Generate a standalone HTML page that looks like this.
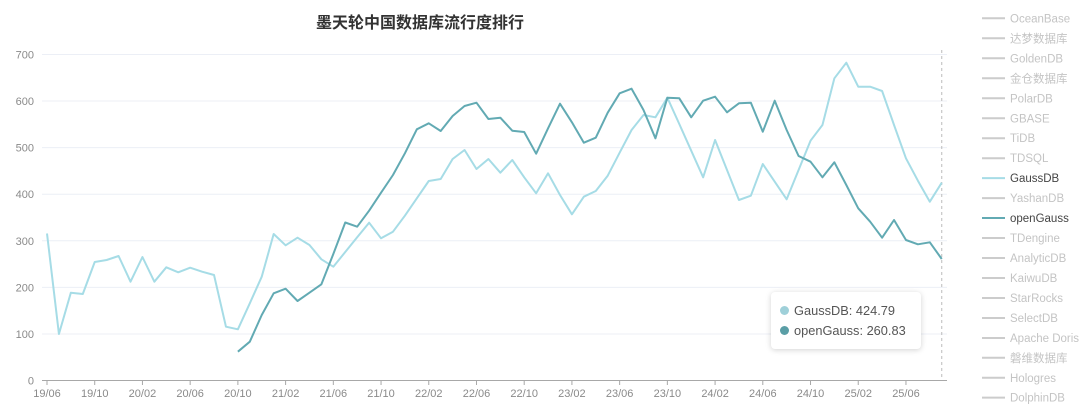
<!DOCTYPE html>
<html><head><meta charset="utf-8"><style>
html,body{margin:0;padding:0;background:#fff;}
body{width:1080px;height:406px;overflow:hidden;position:relative;font-family:"Liberation Sans","Noto Sans CJK SC",sans-serif;}
svg{position:absolute;left:0;top:0;}
.tip{position:absolute;left:771px;top:292px;width:150px;height:57px;background:#fff;border-radius:4px;box-shadow:0 1px 6px rgba(0,0,0,0.18);font-size:12.8px;color:#555;}
.tip div{position:absolute;left:9px;height:16px;line-height:16px;white-space:nowrap;}
.tip span{display:inline-block;width:9px;height:9px;border-radius:50%;margin-right:5px;vertical-align:-0px;}
</style></head><body>
<svg width="1080" height="406" viewBox="0 0 1080 406" xmlns="http://www.w3.org/2000/svg" font-family="Liberation Sans, Noto Sans CJK SC, sans-serif">
<text x="420" y="28" text-anchor="middle" font-size="16" font-weight="bold" fill="#333" font-family="Liberation Sans, Noto Sans CJK SC, sans-serif">墨天轮中国数据库流行度排行</text>
<g stroke="#eceff6" stroke-width="1">
<line x1="42" y1="54.5" x2="947" y2="54.5"/>
<line x1="42" y1="101" x2="947" y2="101"/>
<line x1="42" y1="147.6" x2="947" y2="147.6"/>
<line x1="42" y1="194.2" x2="947" y2="194.2"/>
<line x1="42" y1="240.8" x2="947" y2="240.8"/>
<line x1="42" y1="287.4" x2="947" y2="287.4"/>
<line x1="42" y1="334" x2="947" y2="334"/>
</g>
<g font-size="11" fill="#8a8a8a" text-anchor="end">
<text x="34" y="58.5">700</text>
<text x="34" y="105">600</text>
<text x="34" y="151.6">500</text>
<text x="34" y="198.2">400</text>
<text x="34" y="244.8">300</text>
<text x="34" y="291.4">200</text>
<text x="34" y="338">100</text>
<text x="34" y="384.5">0</text>
</g>
<line x1="42" y1="380.5" x2="947" y2="380.5" stroke="#a8a8a8" stroke-width="1"/>
<g stroke="#a8a8a8" stroke-width="1">
<line x1="47" y1="380.5" x2="47" y2="385"/><line x1="94.72" y1="380.5" x2="94.72" y2="385"/><line x1="142.44" y1="380.5" x2="142.44" y2="385"/><line x1="190.16" y1="380.5" x2="190.16" y2="385"/><line x1="237.88" y1="380.5" x2="237.88" y2="385"/><line x1="285.6" y1="380.5" x2="285.6" y2="385"/><line x1="333.32" y1="380.5" x2="333.32" y2="385"/><line x1="381.04" y1="380.5" x2="381.04" y2="385"/><line x1="428.76" y1="380.5" x2="428.76" y2="385"/><line x1="476.48" y1="380.5" x2="476.48" y2="385"/><line x1="524.2" y1="380.5" x2="524.2" y2="385"/><line x1="571.92" y1="380.5" x2="571.92" y2="385"/><line x1="619.64" y1="380.5" x2="619.64" y2="385"/><line x1="667.36" y1="380.5" x2="667.36" y2="385"/><line x1="715.08" y1="380.5" x2="715.08" y2="385"/><line x1="762.8" y1="380.5" x2="762.8" y2="385"/><line x1="810.52" y1="380.5" x2="810.52" y2="385"/><line x1="858.24" y1="380.5" x2="858.24" y2="385"/><line x1="905.96" y1="380.5" x2="905.96" y2="385"/>
</g>
<g font-size="11" fill="#8a8a8a" text-anchor="middle">
<text x="47" y="397">19/06</text><text x="94.72" y="397">19/10</text><text x="142.44" y="397">20/02</text><text x="190.16" y="397">20/06</text><text x="237.88" y="397">20/10</text><text x="285.6" y="397">21/02</text><text x="333.32" y="397">21/06</text><text x="381.04" y="397">21/10</text><text x="428.76" y="397">22/02</text><text x="476.48" y="397">22/06</text><text x="524.2" y="397">22/10</text><text x="571.92" y="397">23/02</text><text x="619.64" y="397">23/06</text><text x="667.36" y="397">23/10</text><text x="715.08" y="397">24/02</text><text x="762.8" y="397">24/06</text><text x="810.52" y="397">24/10</text><text x="858.24" y="397">25/02</text><text x="905.96" y="397">25/06</text>
</g>
<line x1="941.75" y1="50" x2="941.75" y2="380" stroke="#bbb" stroke-width="1" stroke-dasharray="3,3"/>
<polyline fill="none" stroke="#a6dce6" stroke-width="2" stroke-linejoin="round" points="47,233.5 58.93,334 70.86,292.7 82.79,294 94.72,262 106.65,260 118.58,256 130.51,281.7 142.44,257 154.37,281.7 166.3,267.3 178.23,272.3 190.16,267.7 202.09,271.7 214.02,275 225.95,326.7 237.88,329.3 249.81,303.3 261.74,276.7 273.67,234 285.6,245.3 297.53,237.7 309.46,245 321.39,259.3 333.32,266.7 345.25,252 357.18,237.3 369.11,222.7 381.04,238.3 392.97,231.7 404.9,215.7 416.83,198.3 428.76,181 440.69,179 452.62,159 464.55,150 476.48,169 488.41,159 500.34,172.7 512.27,160 524.2,177.3 536.13,193.3 548.06,173.3 559.99,195 571.92,214.3 583.85,196.7 595.78,191 607.71,175.7 619.64,152.7 631.57,130 643.5,115 655.43,117.3 667.36,97.7 679.29,124 691.22,150.7 703.15,177.3 715.08,140 727.01,170 738.94,200 750.87,195.7 762.8,164 774.73,181.7 786.66,199.3 798.59,170 810.52,140.7 822.45,125 834.38,78.3 846.31,62.7 858.24,86.7 870.17,86.7 882.1,91 894.03,125 905.96,158.3 917.89,180.7 929.82,201.7 941.75,182.7"/>
<polyline fill="none" stroke="#62aab3" stroke-width="2" stroke-linejoin="round" points="237.88,351.7 249.81,341.7 261.74,315 273.67,293.3 285.6,288.7 297.53,301 309.46,292.7 321.39,284.3 333.32,254 345.25,222.5 357.18,226.7 369.11,210.7 381.04,192.7 392.97,175 404.9,153.3 416.83,129.3 428.76,123.3 440.69,131 452.62,116 464.55,106 476.48,102.7 488.41,119 500.34,117.7 512.27,130.7 524.2,132 536.13,153.7 548.06,128.3 559.99,103.7 571.92,122.3 583.85,142.7 595.78,137.7 607.71,112.7 619.64,93.3 631.57,88.7 643.5,110 655.43,138.3 667.36,97.7 679.29,98.3 691.22,117.3 703.15,100.7 715.08,96.7 727.01,112.3 738.94,103.3 750.87,102.7 762.8,131.7 774.73,100.7 786.66,130 798.59,156 810.52,161.7 822.45,177.3 834.38,162.3 846.31,185 858.24,208.3 870.17,221.7 882.1,237.7 894.03,220 905.96,240 917.89,244.3 929.82,242.3 941.75,259"/>
<g font-size="11.5">
<g stroke="#cccccc" stroke-width="2">
<line x1="982" y1="18.3" x2="1005" y2="18.3"/><line x1="982" y1="38.3" x2="1005" y2="38.3"/><line x1="982" y1="58.3" x2="1005" y2="58.3"/><line x1="982" y1="78.3" x2="1005" y2="78.3"/><line x1="982" y1="98.3" x2="1005" y2="98.3"/><line x1="982" y1="118.3" x2="1005" y2="118.3"/><line x1="982" y1="138.2" x2="1005" y2="138.2"/><line x1="982" y1="158.2" x2="1005" y2="158.2"/><line x1="982" y1="198.1" x2="1005" y2="198.1"/><line x1="982" y1="238" x2="1005" y2="238"/><line x1="982" y1="258" x2="1005" y2="258"/><line x1="982" y1="278" x2="1005" y2="278"/><line x1="982" y1="298" x2="1005" y2="298"/><line x1="982" y1="318" x2="1005" y2="318"/><line x1="982" y1="338" x2="1005" y2="338"/><line x1="982" y1="357.8" x2="1005" y2="357.8"/><line x1="982" y1="377.8" x2="1005" y2="377.8"/><line x1="982" y1="397.6" x2="1005" y2="397.6"/>
</g>
<line x1="982" y1="178.1" x2="1005" y2="178.1" stroke="#a6dce6" stroke-width="2"/>
<line x1="982" y1="218" x2="1005" y2="218" stroke="#62aab3" stroke-width="2"/>
<g fill="#c4c4c4">
<text x="1010" y="22.3">OceanBase</text>
<text x="1010" y="42.3">达梦数据库</text>
<text x="1010" y="62.3">GoldenDB</text>
<text x="1010" y="82.3">金仓数据库</text>
<text x="1010" y="102.3">PolarDB</text>
<text x="1010" y="122.3">GBASE</text>
<text x="1010" y="142.2">TiDB</text>
<text x="1010" y="162.2">TDSQL</text>
<text x="1010" y="202.1">YashanDB</text>
<text x="1010" y="242">TDengine</text>
<text x="1010" y="262">AnalyticDB</text>
<text x="1010" y="282">KaiwuDB</text>
<text x="1010" y="302">StarRocks</text>
<text x="1010" y="322">SelectDB</text>
<text x="1010" y="342">Apache Doris</text>
<text x="1010" y="361.8">磐维数据库</text>
<text x="1010" y="381.8">Hologres</text>
<text x="1010" y="401.6">DolphinDB</text>
</g>
<text x="1010" y="182.1" fill="#444">GaussDB</text>
<text x="1010" y="222" fill="#444">openGauss</text>
</g>
</svg>
<div class="tip">
<div style="top:11px"><span style="background:#9fd0d9"></span>GaussDB: 424.79</div>
<div style="top:31px"><span style="background:#5a9ea6"></span>openGauss: 260.83</div>
</div>
</body></html>
